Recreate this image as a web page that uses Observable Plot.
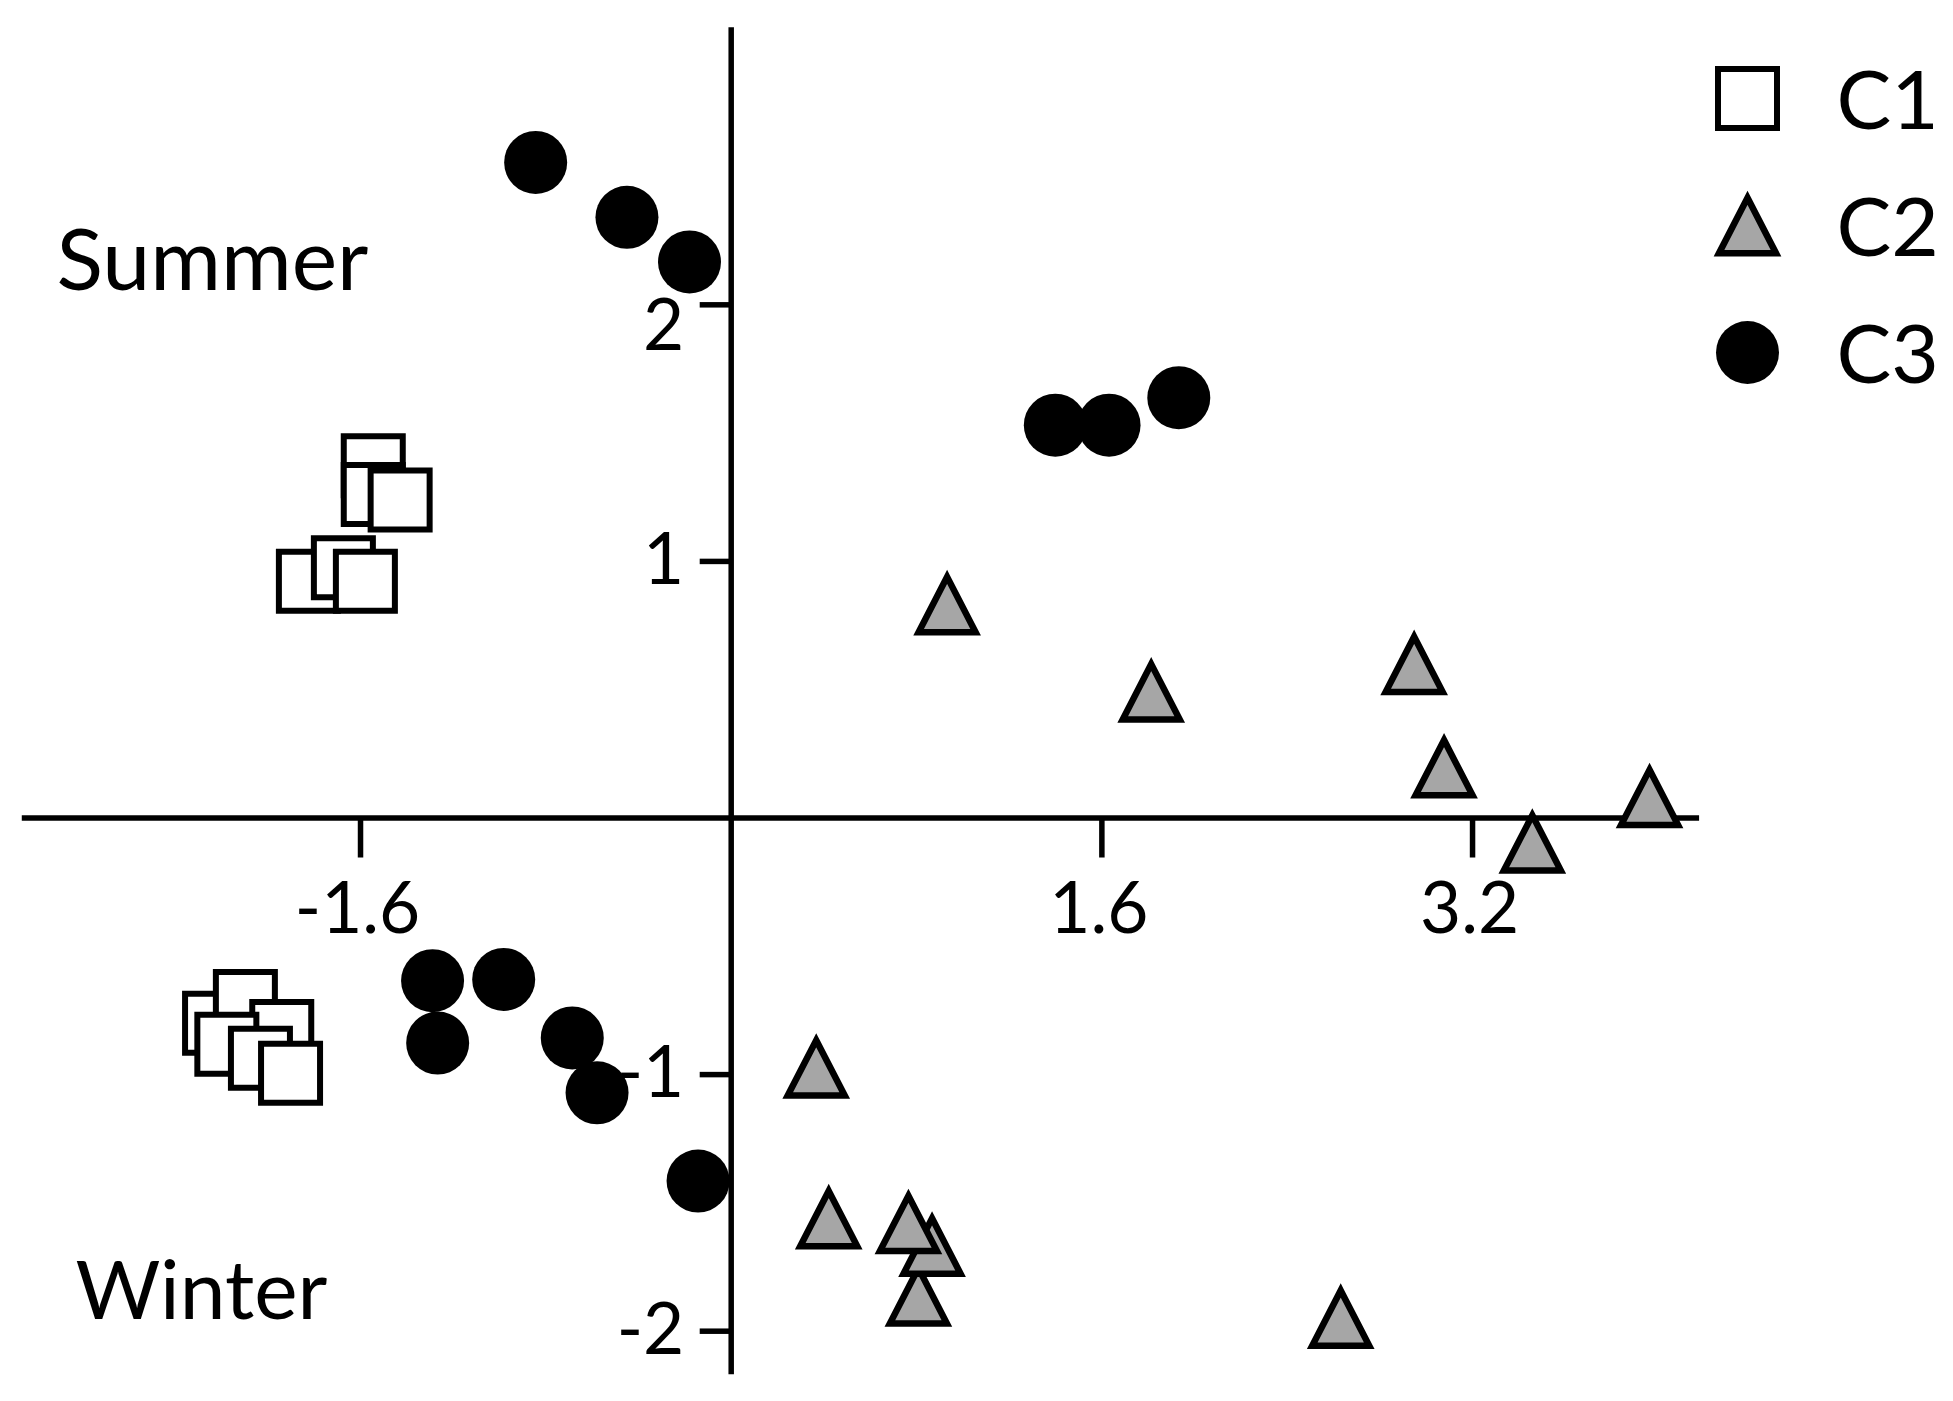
<!DOCTYPE html>
<html>
<head>
<meta charset="utf-8">
<script src="https://cdn.jsdelivr.net/npm/d3@7"></script>
<script src="https://cdn.jsdelivr.net/npm/@observablehq/plot@0.6"></script>
<style>
  html, body { margin: 0; padding: 0; background: #fff; }
  #chart svg { display: block; }
</style>
</head>
<body>
<div id="chart"></div>
<script>
// ---- data ----
const categories = ["C1", "C2", "C3"];
const xTicks = [-1.6, 1.6, 3.2];
const yTicks = [-2, -1, 1, 2];
const seasonLabels = ["Summer", "Winter"];

// C1 (open squares), listed in drawing order
const c1X = [-1.545, -1.545, -1.429, -1.825, -1.674, -1.579, -2.230, -2.097, -1.940, -2.177, -2.032, -1.902];
const c1Y = [1.373, 1.261, 1.239, 0.923, 0.975, 0.923, -0.800, -0.715, -0.832, -0.882, -0.936, -0.995];

// C2 (grey triangles)
const c2X = [0.932, 1.813, 2.948, 3.077, 3.964, 3.458, 0.367, 0.421, 0.808, 0.867, 0.765, 2.631];
const c2Y = [0.832, 0.492, 0.599, 0.196, 0.080, -0.097, -0.974, -1.561, -1.862, -1.668, -1.580, -1.949];

// C3 (black circles)
const c3X = [-0.844, -0.450, -0.180, 1.399, 1.631, 1.932, -1.289, -0.982, -1.267, -0.686, -0.579, -0.143];
const c3Y = [2.555, 2.341, 2.167, 1.531, 1.531, 1.638, -0.634, -0.629, -0.877, -0.857, -1.071, -1.415];

// axis extents (data units)
const xAxisExtent = [-3.06, 4.18];
const yAxisExtent = [-2.17, 3.08];
const xDomain = [-3.154, 5.276];
const yDomain = [-2.274, 3.186];

// ---- build tables ----
const toRows = (xs, ys) => xs.map((x, i) => ({x, y: ys[i]}));
const c1 = toRows(c1X, c1Y);
const c2 = toRows(c2X, c2Y);
const c3 = toRows(c3X, c3Y);

// ---- custom symbols ----
const squareSym = {
  draw(ctx, size) {
    const r = Math.sqrt(size / Math.PI);
    ctx.moveTo(-r, -r); ctx.lineTo(r, -r); ctx.lineTo(r, r); ctx.lineTo(-r, r); ctx.closePath();
  }
};
const triSym = {
  draw(ctx, size) {
    const r = Math.sqrt(size / Math.PI);
    const h = 0.97 * r;
    ctx.moveTo(0, -h); ctx.lineTo(r, h); ctx.lineTo(-r, h); ctx.closePath();
  }
};
const circSym = d3.symbolCircle;

const styles = {
  C1: {symbol: squareSym, r: 29.5, fill: "#ffffff", stroke: "#000000", strokeWidth: 6},
  C2: {symbol: triSym, r: 28.5, fill: "#a6a6a6", stroke: "#000000", strokeWidth: 6.5},
  C3: {symbol: circSym, r: 31.5, fill: "#000000", stroke: "none", strokeWidth: 0}
};

const FONT = "Lato, 'Noto Sans', sans-serif";
const W = 1953, H = 1401;

const legendMarks = categories.flatMap((c, i) => [
  Plot.dot([c], {frameAnchor: "top-left", dx: 1747, dy: 98 + i * 127, ...styles[c]}),
  Plot.text([c], {frameAnchor: "top-left", dx: 1836, dy: 128 + i * 127, text: d => d,
    textAnchor: "start", lineAnchor: "bottom", fontSize: 82, fill: "#000"})
]);

const chart = Plot.plot({
  width: W,
  height: H,
  margin: 0,
  style: {background: "#fff", fontFamily: FONT, overflow: "visible"},
  x: {domain: xDomain, axis: null},
  y: {domain: yDomain, axis: null},
  marks: [
    // axes crossing at the origin
    Plot.ruleY([0], {x1: xAxisExtent[0], x2: xAxisExtent[1], stroke: "#000", strokeWidth: 5.5}),
    Plot.ruleX([0], {y1: yAxisExtent[0], y2: yAxisExtent[1], stroke: "#000", strokeWidth: 5.5}),
    // ticks
    Plot.ruleX(xTicks, {x: d => d, y1: 0, y2: 0, insetBottom: -40, stroke: "#000", strokeWidth: 5.5}),
    Plot.ruleY(yTicks, {y: d => d, x1: 0, x2: 0, insetLeft: -31, stroke: "#000", strokeWidth: 5.5}),
    // tick labels
    Plot.text(xTicks, {x: d => d, y: 0, text: d => String(d), dy: 92, dx: -3,
      fontSize: 71, fill: "#000", textAnchor: "middle"}),
    Plot.text(yTicks.filter(d => d !== 2), {x: 0, y: d => d, text: d => String(d), dx: -47,
      fontSize: 71, fill: "#000", textAnchor: "end"}),
    Plot.text(yTicks.filter(d => d === 2), {x: 0, y: d => d, text: d => String(d), dx: -47, dy: 22,
      fontSize: 71, fill: "#000", textAnchor: "end"}),
    // data
    Plot.dot(c1, {x: "x", y: "y", ...styles.C1}),
    Plot.dot(c3, {x: "x", y: "y", ...styles.C3}),
    Plot.dot(c2, {x: "x", y: "y", ...styles.C2}),
    // season annotations
    Plot.text([seasonLabels[0]], {frameAnchor: "top-left", dx: 56, dy: 289, text: d => d,
      textAnchor: "start", lineAnchor: "bottom", fontSize: 86, fill: "#000"}),
    Plot.text([seasonLabels[1]], {frameAnchor: "top-left", dx: 75, dy: 1318, text: d => d,
      textAnchor: "start", lineAnchor: "bottom", fontSize: 82, fill: "#000"}),
    ...legendMarks
  ]
});

document.getElementById("chart").appendChild(chart);
</script>
</body>
</html>
